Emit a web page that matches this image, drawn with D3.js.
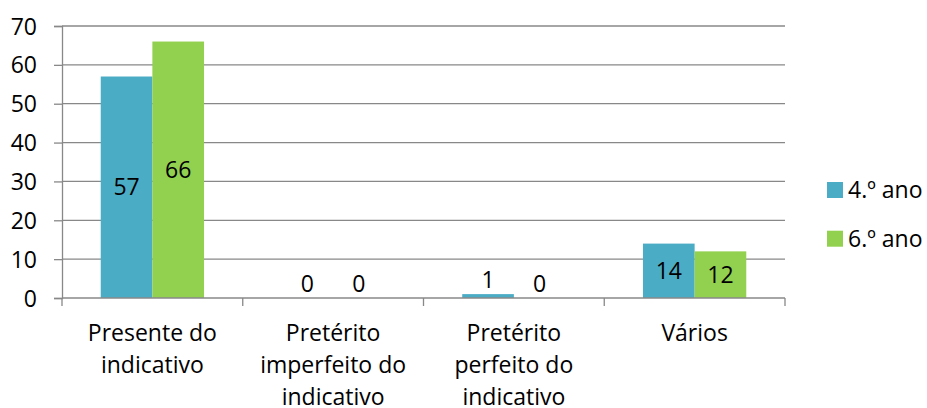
<!DOCTYPE html>
<html>
<head>
<meta charset="utf-8">
<script src="https://cdn.jsdelivr.net/npm/d3@7/dist/d3.min.js"></script>
<style>
  body { margin: 0; background: #fff; }
  svg text { font-family: "Open Sans", sans-serif; fill: #000; }
</style>
</head>
<body>
<svg id="chart" width="927" height="408"></svg>
<script>
var categories = ["Presente do indicativo", "Pretérito imperfeito do indicativo", "Pretérito perfeito do indicativo", "Vários"];
var seriesNames = ["4.º ano", "6.º ano"];
var ano4 = [57, 0, 1, 14];
var ano6 = [66, 0, 0, 12];
var yTicks = [0, 10, 20, 30, 40, 50, 60, 70];
var colors = ["#4bacc6", "#92d050"];

var svg = d3.select("#chart");
var plotLeft = 62, plotRight = 785, plotTop = 26, plotBottom = 298;
var fontSize = 23;

var x = d3.scaleBand().domain(categories).range([plotLeft, plotRight]);
// gap width 150% -> each bar is band / 3.5
var barW = x.bandwidth() / 3.5;
var y = d3.scaleLinear().domain([0, 70]).range([plotBottom, plotTop]);

// gridlines
svg.append("g").selectAll("line")
  .data(yTicks.filter(function(d) { return d > 0; }))
  .enter().append("line")
  .attr("x1", plotLeft).attr("x2", plotRight)
  .attr("y1", function(d) { return y(d); })
  .attr("y2", function(d) { return y(d); })
  .attr("stroke", "#888").attr("stroke-width", 1.3);

// y axis
var yAxis = svg.append("g")
  .attr("transform", "translate(" + plotLeft + ",0)")
  .call(d3.axisLeft(y).tickValues(yTicks).tickSize(8).tickPadding(17));
yAxis.select(".domain").attr("stroke", "#888").attr("stroke-width", 1.3);
yAxis.selectAll(".tick line").attr("stroke", "#888").attr("stroke-width", 1.3);
yAxis.selectAll(".tick text")
  .style("font-family", "Open Sans").attr("font-size", fontSize).attr("fill", "#000")
  .attr("dy", "0.35em");

// bars
var data = [];
categories.forEach(function(c, i) {
  data.push({ cat: c, s: 0, v: ano4[i] });
  data.push({ cat: c, s: 1, v: ano6[i] });
});

svg.append("g").selectAll("rect")
  .data(data).enter().append("rect")
  .attr("x", function(d) { return x(d.cat) + barW * 0.75 + d.s * barW; })
  .attr("width", barW)
  .attr("y", function(d) { return y(d.v); })
  .attr("height", function(d) { return y(0) - y(d.v); })
  .attr("fill", function(d) { return colors[d.s]; });

// x axis
var xAxis = svg.append("g")
  .attr("transform", "translate(0," + plotBottom + ")");
xAxis.append("line").attr("x1", plotLeft).attr("x2", plotRight)
  .attr("stroke", "#888").attr("stroke-width", 1.3);
xAxis.selectAll("line.tk")
  .data(categories.concat(["end"])).enter().append("line")
  .attr("class", "tk")
  .attr("x1", function(d, i) { return plotLeft + i * x.bandwidth(); })
  .attr("x2", function(d, i) { return plotLeft + i * x.bandwidth(); })
  .attr("y1", 0).attr("y2", 8)
  .attr("stroke", "#888").attr("stroke-width", 1.3);

// value labels (centred; pushed above tiny bars)
svg.append("g").selectAll("text")
  .data(data).enter().append("text")
  .attr("x", function(d) { return x(d.cat) + barW * 1.25 + d.s * barW; })
  .attr("y", function(d) {
    var h = y(0) - y(d.v);
    return h < 20 ? y(d.v) - 14 : (y(0) + y(d.v)) / 2;
  })
  .attr("dy", "0.35em")
  .attr("text-anchor", "middle")
  .attr("font-size", fontSize)
  .text(function(d) { return d.v; });

// category labels with wrapping
function wrapLines(text, maxW) {
  var probe = svg.append("text").attr("font-size", fontSize);
  var words = text.split(" "), lines = [], line = [];
  words.forEach(function(w) {
    var test = line.concat([w]).join(" ");
    probe.text(test);
    if (probe.node().getComputedTextLength() > maxW && line.length) {
      lines.push(line.join(" "));
      line = [w];
    } else {
      line.push(w);
    }
  });
  lines.push(line.join(" "));
  probe.remove();
  return lines;
}

var catG = svg.append("g").selectAll("text")
  .data(categories).enter().append("text")
  .attr("text-anchor", "middle")
  .attr("font-size", fontSize)
  .attr("x", function(d) { return x(d) + x.bandwidth() / 2; })
  .attr("y", 341);
catG.each(function(d) {
  var t = d3.select(this);
  wrapLines(d, x.bandwidth() * 0.86).forEach(function(l, i) {
    t.append("tspan")
      .attr("x", x(d) + x.bandwidth() / 2)
      .attr("dy", i === 0 ? 0 : 32)
      .text(l);
  });
});

// legend
var legend = svg.append("g").selectAll("g")
  .data(seriesNames).enter().append("g")
  .attr("transform", function(d, i) { return "translate(827," + (182 + i * 48.7) + ")"; });
legend.append("rect")
  .attr("width", 16).attr("height", 16)
  .attr("fill", function(d, i) { return colors[i]; });
legend.append("text")
  .attr("x", 21).attr("y", 8).attr("dy", "0.35em")
  .attr("font-size", fontSize)
  .text(function(d) { return d; });
</script>
</body>
</html>
